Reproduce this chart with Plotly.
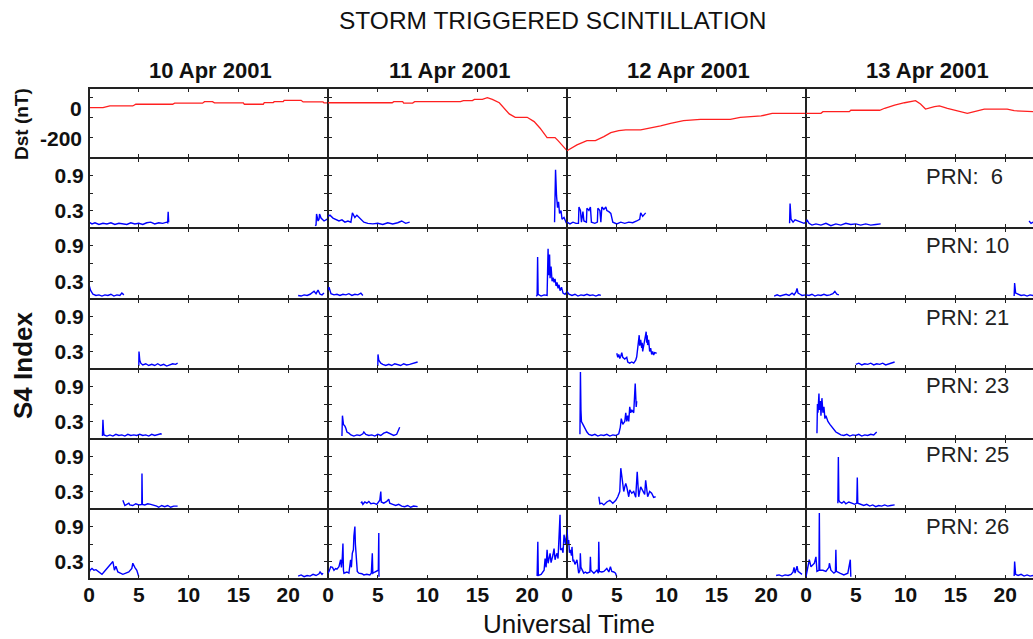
import plotly.graph_objects as go
from plotly.subplots import make_subplots

# ---------------- data ----------------
DAYS = ["10 Apr 2001", "11 Apr 2001", "12 Apr 2001", "13 Apr 2001"]
PRNS = [6, 10, 21, 23, 25, 26]
PRN_LABELS = ["PRN:  6", "PRN: 10", "PRN: 21", "PRN: 23", "PRN: 25", "PRN: 26"]
X_TICKS = [0, 5, 10, 15, 20]
S4_TICKS = [0.3, 0.6, 0.9]
S4_TICKTEXT = ["0.3", "", "0.9"]
DST_LABELS = [0, -200]
DST_MINOR_TICKS = [69, -61, -189]

# Dst (nT), hours UT
DST_APR10_T = [0, 1.4, 2.1, 4.4, 4.7, 8.4, 8.6, 11.4, 11.6, 12.4, 12.6, 15.5, 15.6, 17.5, 17.6, 18.5, 18.6, 19.5, 19.6, 21.3, 21.5, 23.5, 23.6, 24]
DST_APR10_V = [4, 4, 15, 15, 26, 26, 33, 33, 43, 43, 35, 35, 26, 26, 37, 37, 43, 43, 52, 52, 41, 41, 35, 35]
DST_APR11_T = [0, 6.45, 6.6, 7.5, 7.6, 8.5, 8.7, 13.3, 13.6, 14.5, 14.7, 15.5, 16.0, 16.5, 17.2, 17.7, 18.2, 18.8, 20.0, 20.7, 21.3, 22.0, 22.8, 23.1, 23.7, 24]
DST_APR11_V = [36, 36, 43, 43, 34, 34, 43, 43, 50, 50, 58, 58, 69, 58, 36, 0, -37, -59, -59, -87, -130, -191, -191, -211, -254, -276]
DST_APR12_T = [0, 1, 2, 2.85, 3.7, 4.4, 5.2, 5.9, 7.4, 8.4, 9.4, 10.4, 11.7, 13.4, 16.4, 17.4, 19.5, 20.6, 24]
DST_APR12_V = [-276, -239, -211, -211, -185, -159, -146, -141, -141, -130, -115, -98, -81, -72, -72, -59, -50, -33, -33]
DST_APR13_T = [0, 1.5, 1.7, 4.35, 4.5, 7.4, 7.9, 8.9, 9.9, 11, 11.5, 12, 12.9, 13.4, 14.2, 15.2, 16.2, 16.9, 17.9, 20.2, 20.9, 22.8]
DST_APR13_V = [-33, -33, -22, -22, -13, -13, 0, 21, 36, 50, 28, -5, 10, 15, 0, -16, -33, -22, -5, -5, -16, -22]

# S4 index, PRN 6
PRN06_APR10_T = [0, 0.3, 0.6, 1.0, 1.4, 1.8, 2.2, 2.6, 3.0, 3.4, 3.8, 4.2, 4.6, 5.0, 5.4, 5.8, 6.2, 6.6, 7.0, 7.4, 7.8, 7.9, 7.95, 8.0, None, 22.7, 22.8, 22.85, 23.0, 23.1, 23.15, 23.3, 23.6, 24]
PRN06_APR10_V = [0.10, 0.07, 0.09, 0.06, 0.08, 0.07, 0.09, 0.06, 0.08, 0.07, 0.06, 0.09, 0.07, 0.08, 0.06, 0.09, 0.10, 0.07, 0.09, 0.08, 0.10, 0.09, 0.28, 0.10, None, 0.04, 0.05, 0.24, 0.12, 0.15, 0.24, 0.17, 0.12, 0.16]
PRN06_APR11_T = [0, 0.2, 0.5, 0.8, 1.1, 1.4, 1.7, 2.0, 2.3, 2.45, 2.7, 2.9, 3.3, 3.6, 4.0, 4.5, 5.0, 5.5, 6.0, 6.5, 7.0, 7.4, 7.8, 8.2, None, 22.75, 22.85, 22.95, 23.05, 23.15, 23.25, 23.4, 23.5, 23.7, 23.9, 24]
PRN06_APR11_V = [0.20, 0.22, 0.17, 0.14, 0.12, 0.14, 0.10, 0.12, 0.10, 0.26, 0.18, 0.22, 0.15, 0.10, 0.08, 0.07, 0.08, 0.06, 0.09, 0.07, 0.09, 0.12, 0.08, 0.10, None, 0.10, 1.00, 0.55, 0.35, 0.45, 0.25, 0.30, 0.15, 0.18, 0.10, 0.12]
PRN06_APR12_T = [0, 0.3, 0.6, 0.9, 1.15, 1.2, 1.35, 1.45, 1.6, 1.7, 1.95, 2.0, 2.2, 2.35, 2.45, 2.8, 3.05, 3.1, 3.3, 3.4, 3.5, 3.7, 3.9, 4.0, 4.2, 4.4, 4.6, 5.0, 5.4, 5.8, 6.2, 6.6, 7.0, 7.3, 7.4, 7.6, 7.9, None, 22.35, 22.4, 22.5, 22.7, 22.9, 23.2, 23.5, 23.8, 24]
PRN06_APR12_V = [0.10, 0.07, 0.10, 0.08, 0.08, 0.36, 0.30, 0.10, 0.28, 0.12, 0.10, 0.34, 0.30, 0.36, 0.10, 0.08, 0.10, 0.34, 0.30, 0.10, 0.36, 0.32, 0.36, 0.30, 0.28, 0.25, 0.10, 0.07, 0.10, 0.08, 0.10, 0.09, 0.12, 0.15, 0.26, 0.20, 0.26, None, 0.08, 0.42, 0.15, 0.10, 0.14, 0.12, 0.10, 0.08, 0.10]
PRN06_APR13_T = [0, 0.1, 0.3, 0.6, 1.0, 1.5, 2.0, 2.5, 3.0, 3.5, 4.0, 4.5, 5.0, 5.5, 6.0, 6.5, 7.0, 7.5, None, 22.4, 22.6, 22.8]
PRN06_APR13_V = [0.10, 0.14, 0.08, 0.05, 0.07, 0.05, 0.08, 0.04, 0.07, 0.05, 0.08, 0.06, 0.07, 0.05, 0.07, 0.05, 0.06, 0.07, None, 0.12, 0.08, 0.10]

# PRN 10
PRN10_APR10_T = [0, 0.15, 0.4, 0.7, 1.0, 1.3, 1.6, 1.9, 2.2, 2.5, 2.8, 3.1, 3.3, 3.5, None, 21.0, 21.3, 21.6, 21.9, 22.2, 22.4, 22.6, 22.8, 23.0, 23.2, 23.4, 23.6]
PRN10_APR10_V = [0.24, 0.15, 0.08, 0.06, 0.07, 0.05, 0.07, 0.06, 0.08, 0.05, 0.07, 0.06, 0.10, 0.07, None, 0.06, 0.05, 0.07, 0.06, 0.08, 0.10, 0.13, 0.09, 0.15, 0.08, 0.07, 0.10]
PRN10_APR11_T = [0, 0.1, 0.3, 0.6, 0.9, 1.2, 1.5, 1.8, 2.1, 2.4, 2.7, 3.0, 3.3, 3.5, None, 20.9, 21.0, 21.05, 21.1, 21.4, 21.7, 22.0, 22.05, 22.1, 22.15, 22.25, 22.3, 22.4, 22.5, 22.6, 22.7, 22.8, 22.9, 23.0, 23.1, 23.2, 23.3, 23.45, 23.6, 23.8, 24]
PRN10_APR11_V = [0.15, 0.20, 0.09, 0.07, 0.08, 0.06, 0.08, 0.07, 0.09, 0.06, 0.08, 0.07, 0.10, 0.06, None, 0.05, 0.06, 0.71, 0.08, 0.05, 0.07, 0.06, 0.30, 0.85, 0.40, 0.75, 0.35, 0.55, 0.30, 0.36, 0.28, 0.34, 0.22, 0.28, 0.18, 0.24, 0.14, 0.20, 0.10, 0.08, 0.12]
PRN10_APR12_T = [0, 0.2, 0.5, 0.8, 1.1, 1.4, 1.7, 2.0, 2.3, 2.6, 2.9, 3.2, 3.4, None, 20.8, 21.1, 21.4, 21.7, 22.0, 22.3, 22.6, 22.8, 23.0, 23.1, 23.2, 23.4, 23.6, 24]
PRN10_APR12_V = [0.13, 0.08, 0.06, 0.08, 0.05, 0.07, 0.06, 0.08, 0.06, 0.07, 0.05, 0.07, 0.06, None, 0.05, 0.07, 0.05, 0.06, 0.08, 0.06, 0.10, 0.07, 0.12, 0.18, 0.10, 0.08, 0.06, 0.07]
PRN10_APR13_T = [0, 0.3, 0.6, 0.9, 1.2, 1.5, 1.8, 2.1, 2.4, 2.7, 2.9, 3.1, 3.3, None, 20.9, 20.95, 21.05, 21.3, 21.6, 21.9, 22.2, 22.5, 22.8]
PRN10_APR13_V = [0.07, 0.06, 0.08, 0.05, 0.07, 0.06, 0.08, 0.06, 0.07, 0.09, 0.13, 0.08, 0.07, None, 0.05, 0.27, 0.10, 0.08, 0.06, 0.07, 0.05, 0.07, 0.06]

# PRN 21
PRN21_APR10_T = [5.0, 5.02, 5.1, 5.2, 5.4, 5.7, 6.0, 6.3, 6.6, 6.9, 7.2, 7.5, 7.8, 8.1, 8.4, 8.7, 8.9]
PRN21_APR10_V = [0.05, 0.30, 0.15, 0.10, 0.07, 0.09, 0.06, 0.08, 0.06, 0.09, 0.06, 0.08, 0.05, 0.07, 0.09, 0.08, 0.10]
PRN21_APR11_T = [5.0, 5.02, 5.1, 5.3, 5.5, 5.8, 6.1, 6.4, 6.7, 7.0, 7.3, 7.6, 7.9, 8.2, 8.5, 8.8, 9.0]
PRN21_APR11_V = [0.05, 0.25, 0.15, 0.10, 0.08, 0.06, 0.08, 0.06, 0.09, 0.07, 0.06, 0.09, 0.07, 0.08, 0.10, 0.12, 0.12]
PRN21_APR12_T = [5.0, 5.1, 5.2, 5.3, 5.4, 5.5, 5.6, 5.8, 6.0, 6.1, 6.3, 6.5, 6.7, 6.9, 7.0, 7.1, 7.2, 7.25, 7.3, 7.4, 7.5, 7.55, 7.6, 7.7, 7.8, 7.95, 8.0, 8.05, 8.1, 8.2, 8.3, 8.4, 8.5, 8.6, 8.7, 8.8, 9.0]
PRN21_APR12_V = [0.27, 0.20, 0.25, 0.18, 0.22, 0.28, 0.20, 0.17, 0.20, 0.12, 0.10, 0.12, 0.10, 0.15, 0.21, 0.35, 0.50, 0.58, 0.40, 0.50, 0.36, 0.45, 0.30, 0.38, 0.50, 0.64, 0.45, 0.58, 0.41, 0.50, 0.30, 0.36, 0.25, 0.30, 0.24, 0.28, 0.27]
PRN21_APR13_T = [5.0, 5.3, 5.6, 5.9, 6.2, 6.5, 6.8, 7.1, 7.4, 7.7, 8.0, 8.3, 8.6, 8.9]
PRN21_APR13_V = [0.08, 0.10, 0.07, 0.09, 0.08, 0.10, 0.07, 0.09, 0.08, 0.10, 0.07, 0.09, 0.11, 0.12]

# PRN 23
PRN23_APR10_T = [1.35, 1.4, 1.45, 1.5, 1.8, 2.1, 2.4, 2.7, 3.0, 3.3, 3.6, 3.9, 4.2, 4.5, 4.8, 5.1, 5.4, 5.7, 6.0, 6.3, 6.6, 6.9, 7.2, 7.3]
PRN23_APR10_V = [0.05, 0.33, 0.15, 0.07, 0.05, 0.07, 0.05, 0.08, 0.06, 0.07, 0.05, 0.08, 0.06, 0.07, 0.06, 0.08, 0.06, 0.07, 0.05, 0.08, 0.06, 0.07, 0.09, 0.08]
PRN23_APR11_T = [1.4, 1.45, 1.55, 1.7, 1.8, 1.9, 2.1, 2.3, 2.6, 2.9, 3.2, 3.5, 3.6, 3.8, 4.1, 4.4, 4.7, 5.0, 5.3, 5.6, 5.9, 6.1, 6.3, 6.6, 6.9, 7.1, 7.2]
PRN23_APR11_V = [0.05, 0.40, 0.25, 0.22, 0.18, 0.12, 0.10, 0.07, 0.05, 0.07, 0.06, 0.09, 0.12, 0.08, 0.06, 0.07, 0.05, 0.08, 0.06, 0.10, 0.12, 0.10, 0.08, 0.06, 0.08, 0.15, 0.20]
PRN23_APR12_T = [1.3, 1.35, 1.4, 1.45, 1.6, 1.8, 2.0, 2.2, 2.5, 2.8, 3.1, 3.4, 3.7, 4.0, 4.3, 4.6, 4.9, 5.2, 5.35, 5.45, 5.6, 5.8, 5.9, 6.0, 6.1, 6.2, 6.3, 6.4, 6.5, 6.7, 6.85, 6.95, 7.0]
PRN23_APR12_V = [0.08, 1.15, 0.50, 0.30, 0.25, 0.18, 0.12, 0.08, 0.06, 0.08, 0.05, 0.07, 0.06, 0.08, 0.05, 0.07, 0.06, 0.09, 0.20, 0.35, 0.25, 0.30, 0.45, 0.30, 0.40, 0.30, 0.55, 0.45, 0.50, 0.45, 0.95, 0.55, 0.65]
PRN23_APR13_T = [1.1, 1.15, 1.2, 1.3, 1.35, 1.45, 1.5, 1.6, 1.7, 1.8, 1.9, 2.0, 2.2, 2.4, 2.6, 2.8, 3.0, 3.2, 3.5, 3.8, 4.1, 4.4, 4.7, 5.0, 5.3, 5.6, 5.9, 6.2, 6.5, 6.8, 7.0, 7.1]
PRN23_APR13_V = [0.10, 0.60, 0.45, 0.78, 0.50, 0.65, 0.40, 0.70, 0.45, 0.55, 0.35, 0.40, 0.30, 0.25, 0.20, 0.15, 0.12, 0.10, 0.07, 0.06, 0.08, 0.05, 0.07, 0.06, 0.08, 0.05, 0.07, 0.06, 0.08, 0.07, 0.10, 0.12]

# PRN 25
PRN25_APR10_T = [3.4, 3.5, 3.6, 3.8, 4.0, 4.1, 4.4, 4.7, 5.0, 5.3, 5.32, 5.36, 5.6, 5.9, 6.2, 6.5, 6.8, 7.0, 7.3, 7.6, 7.9, 8.2, 8.5, 8.9]
PRN25_APR10_V = [0.15, 0.10, 0.06, 0.08, 0.10, 0.07, 0.06, 0.09, 0.07, 0.08, 0.61, 0.08, 0.07, 0.09, 0.08, 0.07, 0.05, 0.03, 0.06, 0.04, 0.06, 0.03, 0.05, 0.05]
PRN25_APR11_T = [3.3, 3.4, 3.5, 3.7, 3.9, 4.1, 4.3, 4.6, 4.9, 5.2, 5.3, 5.35, 5.6, 5.9, 6.1, 6.2, 6.5, 6.8, 7.1, 7.4, 7.7, 8.0, 8.3, 8.6, 9.0]
PRN25_APR11_V = [0.10, 0.12, 0.08, 0.12, 0.10, 0.13, 0.09, 0.10, 0.08, 0.15, 0.30, 0.12, 0.10, 0.13, 0.17, 0.10, 0.08, 0.06, 0.08, 0.05, 0.04, 0.06, 0.03, 0.05, 0.04]
PRN25_APR12_T = [3.2, 3.3, 3.5, 3.7, 4.0, 4.3, 4.6, 4.9, 5.1, 5.3, 5.4, 5.5, 5.6, 5.7, 5.8, 5.9, 6.0, 6.2, 6.3, 6.5, 6.7, 6.9, 7.05, 7.2, 7.4, 7.6, 7.8, 7.9, 8.1, 8.3, 8.5, 8.7, 8.9]
PRN25_APR12_V = [0.21, 0.09, 0.10, 0.07, 0.12, 0.15, 0.10, 0.15, 0.21, 0.30, 0.70, 0.55, 0.44, 0.30, 0.38, 0.44, 0.38, 0.21, 0.33, 0.27, 0.30, 0.20, 0.64, 0.21, 0.38, 0.30, 0.25, 0.49, 0.21, 0.30, 0.27, 0.20, 0.21]
PRN25_APR13_T = [3.2, 3.25, 3.3, 3.4, 3.6, 3.8, 4.0, 4.3, 4.6, 4.9, 5.1, 5.15, 5.2, 5.5, 5.8, 6.1, 6.4, 6.7, 7.0, 7.3, 7.6, 7.9, 8.2, 8.5, 8.9]
PRN25_APR13_V = [0.10, 0.89, 0.15, 0.12, 0.10, 0.13, 0.09, 0.12, 0.10, 0.08, 0.10, 0.54, 0.10, 0.08, 0.06, 0.08, 0.05, 0.07, 0.04, 0.06, 0.05, 0.07, 0.05, 0.06, 0.07]

# PRN 26
PRN26_APR10_T = [0, 0.1, 0.3, 0.5, 0.7, 1.0, 1.2, 1.3, 1.5, 1.7, 1.9, 2.1, 2.3, 2.4, 2.55, 2.7, 2.9, 3.1, 3.4, 3.7, 4.0, 4.3, 4.4, 4.6, 4.8, 5.0, None, 21.0, 21.3, 21.6, 21.9, 22.2, 22.5, 22.8, 23.1, 23.2, 23.4, 23.5]
PRN26_APR10_V = [0.10, 0.15, 0.18, 0.15, 0.16, 0.12, 0.10, 0.08, 0.12, 0.16, 0.20, 0.24, 0.28, 0.30, 0.15, 0.22, 0.12, 0.10, 0.08, 0.10, 0.12, 0.18, 0.27, 0.20, 0.15, 0.04, None, 0.05, 0.07, 0.04, 0.06, 0.05, 0.08, 0.06, 0.09, 0.12, 0.08, 0.10]
PRN26_APR11_T = [0, 0.1, 0.27, 0.45, 0.6, 0.77, 0.9, 1.1, 1.27, 1.35, 1.44, 1.5, 1.55, 1.6, 1.9, 2.1, 2.27, 2.35, 2.44, 2.55, 2.6, 2.7, 2.75, 2.8, 2.94, 3.1, 3.4, 3.6, 3.9, 4.2, 4.35, 4.45, 4.5, 4.7, 4.95, 5.05, 5.1, 5.12, None, 21.0, 21.07, 21.12, 21.4, 21.7, 21.8, 21.9, 22.0, 22.1, 22.2, 22.3, 22.4, 22.5, 22.6, 22.7, 22.8, 22.9, 23.0, 23.1, 23.2, 23.3, 23.35, 23.5, 23.6, 23.7, 23.85, 24]
PRN26_APR11_V = [0.10, 0.13, 0.21, 0.20, 0.15, 0.18, 0.17, 0.21, 0.33, 0.20, 0.38, 0.61, 0.15, 0.10, 0.12, 0.10, 0.33, 0.20, 0.44, 0.50, 0.73, 0.90, 0.60, 0.44, 0.13, 0.10, 0.09, 0.07, 0.08, 0.07, 0.10, 0.44, 0.10, 0.12, 0.15, 0.15, 0.79, 0.04, None, 0.05, 0.64, 0.06, 0.08, 0.15, 0.35, 0.20, 0.50, 0.27, 0.35, 0.44, 0.28, 0.33, 0.42, 0.52, 0.33, 0.40, 0.44, 0.35, 0.67, 1.10, 0.50, 0.52, 0.45, 0.76, 0.60, 0.82]
PRN26_APR12_T = [0, 0.1, 0.17, 0.25, 0.34, 0.45, 0.5, 0.6, 0.67, 0.8, 1.0, 1.1, 1.17, 1.3, 1.34, 1.4, 1.5, 1.68, 1.85, 2.0, 2.3, 2.35, 2.4, 2.5, 2.7, 3.0, 3.15, 3.19, 3.25, 3.5, 3.7, 4.0, 4.2, 4.36, 4.5, 4.7, 4.87, 5.0, None, 21.0, 21.3, 21.6, 21.9, 22.2, 22.5, 22.7, 22.8, 22.9, 23.0, 23.1, 23.2, 23.4, 23.6]
PRN26_APR12_V = [0.85, 0.60, 0.67, 0.45, 0.50, 0.40, 0.55, 0.30, 0.33, 0.25, 0.33, 0.20, 0.10, 0.15, 0.44, 0.20, 0.15, 0.10, 0.12, 0.10, 0.12, 0.38, 0.15, 0.13, 0.10, 0.15, 0.10, 0.64, 0.13, 0.12, 0.13, 0.18, 0.12, 0.21, 0.13, 0.12, 0.10, 0.04, None, 0.06, 0.07, 0.05, 0.07, 0.06, 0.08, 0.12, 0.20, 0.10, 0.18, 0.22, 0.13, 0.10, 0.08]
PRN26_APR13_T = [0, 0.1, 0.17, 0.33, 0.5, 0.7, 0.84, 1.0, 1.1, 1.3, 1.34, 1.38, 1.7, 2.0, 2.3, 2.35, 2.5, 2.8, 2.95, 3.0, 3.05, 3.4, 3.8, 4.2, 4.45, 4.5, None, 20.9, 20.95, 21.05, 21.3, 21.6, 21.9, 22.2, 22.5, 22.8]
PRN26_APR13_V = [0.04, 0.15, 0.21, 0.33, 0.21, 0.25, 0.27, 0.38, 0.13, 0.15, 1.13, 0.15, 0.15, 0.13, 0.20, 0.27, 0.15, 0.10, 0.12, 0.50, 0.13, 0.10, 0.07, 0.10, 0.33, 0.04, None, 0.05, 0.30, 0.08, 0.06, 0.08, 0.05, 0.07, 0.05, 0.06]

DST_SERIES = [(DST_APR10_T, DST_APR10_V), (DST_APR11_T, DST_APR11_V),
              (DST_APR12_T, DST_APR12_V), (DST_APR13_T, DST_APR13_V)]
S4_SERIES = {
    6: [(PRN06_APR10_T, PRN06_APR10_V), (PRN06_APR11_T, PRN06_APR11_V), (PRN06_APR12_T, PRN06_APR12_V), (PRN06_APR13_T, PRN06_APR13_V)],
    10: [(PRN10_APR10_T, PRN10_APR10_V), (PRN10_APR11_T, PRN10_APR11_V), (PRN10_APR12_T, PRN10_APR12_V), (PRN10_APR13_T, PRN10_APR13_V)],
    21: [(PRN21_APR10_T, PRN21_APR10_V), (PRN21_APR11_T, PRN21_APR11_V), (PRN21_APR12_T, PRN21_APR12_V), (PRN21_APR13_T, PRN21_APR13_V)],
    23: [(PRN23_APR10_T, PRN23_APR10_V), (PRN23_APR11_T, PRN23_APR11_V), (PRN23_APR12_T, PRN23_APR12_V), (PRN23_APR13_T, PRN23_APR13_V)],
    25: [(PRN25_APR10_T, PRN25_APR10_V), (PRN25_APR11_T, PRN25_APR11_V), (PRN25_APR12_T, PRN25_APR12_V), (PRN25_APR13_T, PRN25_APR13_V)],
    26: [(PRN26_APR10_T, PRN26_APR10_V), (PRN26_APR11_T, PRN26_APR11_V), (PRN26_APR12_T, PRN26_APR12_V), (PRN26_APR13_T, PRN26_APR13_V)],
}

# ---------------- layout geometry ----------------
W, H = 1033, 639
COL_PX = [89, 328, 567, 806]
COL_W = 239
ROW_PX = [88, 158, 228, 299, 369, 439, 509, 579]
FONT = "Liberation Sans, Arial, sans-serif"
INK = "#111111"
AX = "#222222"

fig = make_subplots(rows=7, cols=4, horizontal_spacing=0, vertical_spacing=0)

for c in range(4):
    t, v = DST_SERIES[c]
    fig.add_trace(go.Scatter(x=t, y=v, mode="lines", line=dict(color="#ff2020", width=1.3),
                             showlegend=False, hoverinfo="skip"), row=1, col=c + 1)
for r, prn in enumerate(PRNS):
    for c in range(4):
        t, v = S4_SERIES[prn][c]
        fig.add_trace(go.Scatter(x=t, y=v, mode="lines", line=dict(color="#0000ff", width=1.4),
                                 connectgaps=False, showlegend=False, hoverinfo="skip"),
                      row=r + 2, col=c + 1)

tickfont = dict(family=FONT, size=21, color=INK)
for r in range(7):
    for c in range(4):
        i = r * 4 + c + 1
        xa = "xaxis" if i == 1 else f"xaxis{i}"
        ya = "yaxis" if i == 1 else f"yaxis{i}"
        x0 = COL_PX[c]
        x1 = min(x0 + COL_W, W)
        xmax = 24 * (x1 - x0) / COL_W
        fig.layout[xa].update(
            domain=[x0 / W, x1 / W], range=[0, xmax], tickmode="array", tickvals=X_TICKS,
            ticktext=[f"<b>{k}</b>" for k in X_TICKS], automargin=False,
            ticks="inside", ticklen=4, tickwidth=1.3, tickcolor=AX, ticklabelstandoff=-3,
            showline=True, linecolor=AX, linewidth=1, mirror="ticks",
            showgrid=False, zeroline=False, showticklabels=(r == 6), tickfont=tickfont,
        )
        y0 = ROW_PX[r]
        y1 = ROW_PX[r + 1]
        ycfg = dict(
            domain=[1 - y1 / H, 1 - y0 / H], ticks="inside", ticklen=4, tickwidth=1.3, tickcolor=AX,
            showline=True, linecolor=AX, linewidth=1, mirror=("ticks" if c < 3 else False),
            showgrid=False, zeroline=False, tickfont=tickfont, tickmode="array", automargin=False,
        )
        if r == 0:
            ycfg.update(range=[-324, 132], tickvals=DST_MINOR_TICKS,
                        ticktext=["" for _ in DST_MINOR_TICKS], showticklabels=False)
        else:
            ycfg.update(range=[0, 1.2], tickvals=S4_TICKS,
                        ticktext=[f"<b>{s}</b>" if s else "" for s in S4_TICKTEXT],
                        showticklabels=(c == 0))
        fig.layout[ya].update(**ycfg)

# outer frame reinforcement (left, top, bottom edges)
frame = dict(type="line", xref="paper", yref="paper", line=dict(color=AX, width=1), layer="above")
shapes = [
    dict(frame, x0=89.5 / W, x1=89.5 / W, y0=1 - ROW_PX[0] / H, y1=1 - ROW_PX[-1] / H),
    dict(frame, x0=89 / W, x1=1, y0=1 - (ROW_PX[0] + 0.5) / H, y1=1 - (ROW_PX[0] + 0.5) / H),
    dict(frame, x0=89 / W, x1=1, y0=1 - (ROW_PX[-1] - 0.5) / H, y1=1 - (ROW_PX[-1] - 0.5) / H),
]

ann = []
ann.append(dict(text="STORM TRIGGERED SCINTILLATION", x=552 / W, y=1 - 20 / H, xref="paper", yref="paper",
                showarrow=False, font=dict(family=FONT, size=24.5, color=INK), xanchor="center", yanchor="middle"))
for c, d in enumerate(DAYS):
    ann.append(dict(text=f"<b>{d}</b>", x=(COL_PX[c] + COL_W / 2 + 2) / W, y=1 - 70 / H, xref="paper", yref="paper",
                    showarrow=False, font=dict(family=FONT, size=22, color=INK), xanchor="center", yanchor="middle"))
for val in DST_LABELS:
    ann.append(dict(text=f"<b>{val}</b>", x=84 / W, y=val, xref="paper", yref="y",
                    showarrow=False, font=dict(family=FONT, size=21, color=INK), xanchor="right", yanchor="middle"))
ann.append(dict(text="<b>Dst (nT)</b>", x=21 / W, y=1 - 124 / H, xref="paper", yref="paper", textangle=-90,
                showarrow=False, font=dict(family=FONT, size=19, color=INK), xanchor="center", yanchor="middle"))
ann.append(dict(text="<b>S4 Index</b>", x=23 / W, y=1 - 366 / H, xref="paper", yref="paper", textangle=-90,
                showarrow=False, font=dict(family=FONT, size=26, color=INK), xanchor="center", yanchor="middle"))
ann.append(dict(text="Universal Time", x=569 / W, y=1 - 624 / H, xref="paper", yref="paper",
                showarrow=False, font=dict(family=FONT, size=26, color=INK), xanchor="center", yanchor="middle"))
PRN_Y = [176, 245, 317, 386, 455, 526]
for lab, py in zip(PRN_LABELS, PRN_Y):
    ann.append(dict(text=lab.replace("  ", "&nbsp;&nbsp;"), x=924 / W, y=1 - py / H, xref="paper", yref="paper",
                    showarrow=False, font=dict(family=FONT, size=22, color="#222222"),
                    xanchor="left", yanchor="middle"))

fig.update_layout(width=W, height=H, margin=dict(l=0, r=0, t=0, b=0),
                  paper_bgcolor="white", plot_bgcolor="white", annotations=ann, shapes=shapes,
                  showlegend=False)
fig.write_html("out.html", config={"displayModeBar": False})
